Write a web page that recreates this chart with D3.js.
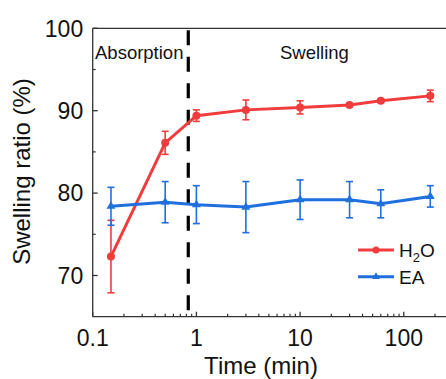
<!DOCTYPE html>
<html>
<head>
<meta charset="utf-8">
<script src="https://cdn.jsdelivr.net/npm/d3@7.9.0/dist/d3.min.js"></script>
<style>
  html, body { margin: 0; padding: 0; background: #fff; }
  svg { display: block; font-family: Arial, "Liberation Sans", sans-serif; }
</style>
</head>
<body>
<div id="chart"></div>
<script>
// time points (min)
const times = [0.15, 0.5, 1, 3, 10, 30, 60, 180];

// H2O swelling ratio (%) and error bars
const h2oMean = [72.3, 86.1, 89.4, 90.1, 90.4, 90.7, 91.2, 91.8];
const h2oErr  = [4.4, 1.4, 0.7, 1.2, 0.8, 0.2, 0.2, 0.7];

// EA swelling ratio (%) and error bars
const eaMean = [78.4, 78.9, 78.6, 78.3, 79.2, 79.2, 78.7, 79.6];
const eaErr  = [2.3, 2.5, 2.3, 3.1, 2.4, 2.2, 1.7, 1.3];

const yTicks = [70, 80, 90, 100];
const yMinor = [75, 85, 95];
const xTicks = [0.1, 1, 10, 100];
const xTickLabels = ['0.1', '1', '10', '100'];
const phaseSplit = 0.835; // dashed divider
const phaseLabels = ['Absorption', 'Swelling'];

const series = [
  { name: 'H2O', mean: h2oMean, err: h2oErr, color: '#f03c3c', marker: 'circle' },
  { name: 'EA', mean: eaMean, err: eaErr, color: '#1f6fdf', marker: 'triangle' },
];

const width = 446, height = 379;
const plotLeft = 92.7, plotTop = 28.3, plotBottom = 316.7;

const svg = d3.select('#chart').append('svg')
  .attr('width', width).attr('height', height);

// scales
const x = d3.scaleLog().domain([0.1, 1000]).range([plotLeft, plotLeft + 103.7 * 4]);
const y = d3.scaleLinear().domain([65, 100]).range([plotBottom, plotTop]);

const axisColor = '#333';

// frame: top line
svg.append('line')
  .attr('x1', plotLeft).attr('x2', width + 5)
  .attr('y1', plotTop).attr('y2', plotTop)
  .attr('stroke', axisColor).attr('stroke-width', 1.3);

// x axis (ticks inside)
const minorX = [];
[0.1, 1, 10, 100].forEach(d => { for (let k = 2; k <= 9; k++) minorX.push(d * k); });
const xAxis = svg.append('g').attr('transform', `translate(0,${plotBottom})`);
xAxis.append('line')
  .attr('x1', plotLeft).attr('x2', width + 5)
  .attr('stroke', axisColor).attr('stroke-width', 1.3);
xAxis.selectAll('line.minor').data(minorX.filter(d => x(d) < width)).join('line')
  .attr('class', 'minor')
  .attr('x1', d => x(d)).attr('x2', d => x(d))
  .attr('y1', 0).attr('y2', -3)
  .attr('stroke', axisColor).attr('stroke-width', 1.2);
xAxis.selectAll('line.major').data(xTicks).join('line')
  .attr('class', 'major')
  .attr('x1', d => x(d)).attr('x2', d => x(d))
  .attr('y1', 0).attr('y2', -5)
  .attr('stroke', axisColor).attr('stroke-width', 1.3);
xAxis.selectAll('text').data(xTicks).join('text')
  .attr('x', d => x(d)).attr('y', 29)
  .attr('text-anchor', 'middle')
  .attr('font-size', 23).attr('fill', '#111')
  .text((d, i) => xTickLabels[i]);

// y axis (ticks inside)
const yAxis = svg.append('g').attr('transform', `translate(${plotLeft},0)`);
yAxis.append('line')
  .attr('y1', plotTop).attr('y2', plotBottom)
  .attr('stroke', axisColor).attr('stroke-width', 1.3);
yAxis.selectAll('line.major').data(yTicks).join('line')
  .attr('class', 'major')
  .attr('y1', d => y(d)).attr('y2', d => y(d))
  .attr('x1', 0).attr('x2', 5)
  .attr('stroke', axisColor).attr('stroke-width', 1.3);
yAxis.selectAll('line.minor').data(yMinor).join('line')
  .attr('class', 'minor')
  .attr('y1', d => y(d)).attr('y2', d => y(d))
  .attr('x1', 0).attr('x2', 3)
  .attr('stroke', axisColor).attr('stroke-width', 1.2);
yAxis.selectAll('text').data(yTicks).join('text')
  .attr('x', -9.5).attr('y', d => y(d))
  .attr('dy', '0.36em')
  .attr('text-anchor', 'end')
  .attr('font-size', 23).attr('fill', '#111')
  .text(d => d);

// axis titles
svg.append('text')
  .attr('x', 261).attr('y', 374)
  .attr('text-anchor', 'middle')
  .attr('font-size', 24).attr('fill', '#111')
  .text('Time (min)');
svg.append('text')
  .attr('transform', `translate(30,171.5) rotate(-90)`)
  .attr('text-anchor', 'middle')
  .attr('font-size', 24).attr('fill', '#111')
  .text('Swelling ratio (%)');

// dashed divider
svg.append('line')
  .attr('x1', x(phaseSplit)).attr('x2', x(phaseSplit))
  .attr('y1', plotTop + 2).attr('y2', plotBottom - 4)
  .attr('stroke', '#000').attr('stroke-width', 3.2)
  .attr('stroke-dasharray', '15,11.5');

// phase labels
svg.append('text')
  .attr('x', 95).attr('y', 59)
  .attr('font-size', 18.5).attr('fill', '#111')
  .text(phaseLabels[0]);
svg.append('text')
  .attr('x', 280).attr('y', 58.5)
  .attr('font-size', 18.5).attr('fill', '#111')
  .text(phaseLabels[1]);

// series
const triangle = d3.symbol().type(d3.symbolTriangle).size(34);
series.forEach(s => {
  const g = svg.append('g');
  const pts = times.map((t, i) => ({ t, m: s.mean[i], e: s.err[i] }));

  // error bars
  pts.forEach(p => {
    const cx = x(p.t);
    g.append('line')
      .attr('x1', cx).attr('x2', cx)
      .attr('y1', y(p.m - p.e)).attr('y2', y(p.m + p.e))
      .attr('stroke', s.color).attr('stroke-width', 1.6);
    [p.m - p.e, p.m + p.e].forEach(v => {
      g.append('line')
        .attr('x1', cx - 3.5).attr('x2', cx + 3.5)
        .attr('y1', y(v)).attr('y2', y(v))
        .attr('stroke', s.color).attr('stroke-width', 1.6);
    });
  });

  g.append('path')
    .datum(pts)
    .attr('fill', 'none')
    .attr('stroke', s.color).attr('stroke-width', 3)
    .attr('d', d3.line().x(d => x(d.t)).y(d => y(d.m)));

  if (s.marker === 'circle') {
    g.selectAll('circle').data(pts).join('circle')
      .attr('cx', d => x(d.t)).attr('cy', d => y(d.m))
      .attr('r', 4).attr('fill', s.color);
  } else {
    g.selectAll('path.mk').data(pts).join('path')
      .attr('class', 'mk')
      .attr('transform', d => `translate(${x(d.t)},${y(d.m)})`)
      .attr('d', triangle).attr('fill', s.color);
  }
});

// legend
const legend = svg.append('g');
series.forEach((s, i) => {
  const ly = 250 + i * 26.7;
  legend.append('line')
    .attr('x1', 358).attr('x2', 394)
    .attr('y1', ly).attr('y2', ly)
    .attr('stroke', s.color).attr('stroke-width', 3);
  if (s.marker === 'circle') {
    legend.append('circle').attr('cx', 376).attr('cy', ly).attr('r', 3.5).attr('fill', s.color);
  } else {
    legend.append('path').attr('transform', `translate(376,${ly})`)
      .attr('d', d3.symbol().type(d3.symbolTriangle).size(26)).attr('fill', s.color);
  }
  const t = legend.append('text')
    .attr('x', 399).attr('y', ly).attr('dy', '0.36em')
    .attr('font-size', 19).attr('fill', '#111');
  if (s.name === 'H2O') {
    t.append('tspan').text('H');
    t.append('tspan').attr('font-size', 13).attr('dy', 5).text('2');
    t.append('tspan').attr('dy', -5).text('O');
  } else {
    t.text(s.name);
  }
});
</script>
</body>
</html>
